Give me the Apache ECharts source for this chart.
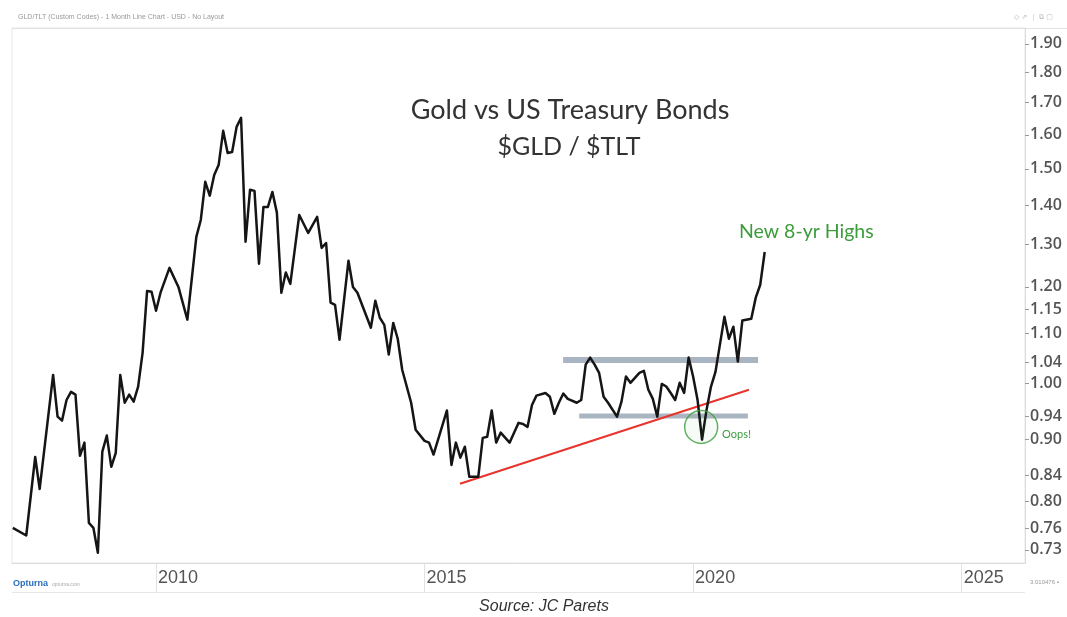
<!DOCTYPE html>
<html><head><meta charset="utf-8">
<script src="https://cdn.jsdelivr.net/npm/echarts@6/dist/echarts.min.js"></script>
<style>html,body{margin:0;padding:0;background:#fff;}#c{width:1067px;height:617px;}</style>
</head><body><div id="c"></div>
<script>
// Monthly GLD/TLT ratio (month, value)
const months = [
'2007-05','2007-08','2007-10','2007-11','2008-02','2008-03','2008-04','2008-05','2008-06','2008-07',
'2008-08','2008-09','2008-10','2008-11','2008-12','2009-01','2009-02','2009-03','2009-04','2009-05',
'2009-06','2009-07','2009-08','2009-09','2009-10','2009-11','2009-12','2010-01','2010-02','2010-04',
'2010-06','2010-08','2010-10','2010-11','2010-12','2011-01','2011-02','2011-03','2011-04','2011-05',
'2011-06','2011-07','2011-08','2011-09','2011-10','2011-11','2011-12','2012-01','2012-02','2012-03',
'2012-04','2012-05','2012-06','2012-07','2012-09','2012-11','2013-01','2013-02','2013-03','2013-04',
'2013-05','2013-06','2013-08','2013-09','2013-10','2014-01','2014-02','2014-03','2014-04','2014-05',
'2014-06','2014-07','2014-08','2014-10','2014-11','2015-01','2015-02','2015-03','2015-06','2015-07',
'2015-08','2015-09','2015-10','2015-11','2016-01','2016-02','2016-03','2016-04','2016-05','2016-06',
'2016-08','2016-09','2016-10','2016-11','2016-12','2017-01','2017-02','2017-04','2017-05','2017-06',
'2017-07','2017-08','2017-09','2017-11','2017-12','2018-01','2018-02','2018-03','2018-04','2018-05',
'2018-06','2018-08','2018-09','2018-10','2018-11','2019-01','2019-02','2019-03','2019-04','2019-05',
'2019-06','2019-07','2019-08','2019-09','2019-10','2019-11','2019-12','2020-01','2020-02','2020-03',
'2020-04','2020-05','2020-06','2020-08','2020-09','2020-10','2020-11','2020-12','2021-02','2021-03',
'2021-04','2021-05'];
const ratio = [
0.761,0.750,0.870,0.819,1.016,0.939,0.932,0.969,0.984,0.979,
0.872,0.894,0.768,0.761,0.726,0.879,0.906,0.854,0.877,1.016,
0.964,0.979,0.966,0.994,1.060,1.191,1.189,1.147,1.187,1.244,
1.200,1.128,1.319,1.362,1.464,1.426,1.483,1.512,1.612,1.546,
1.549,1.624,1.652,1.307,1.442,1.439,1.254,1.396,1.396,1.436,
1.381,1.187,1.233,1.207,1.375,1.329,1.370,1.292,1.304,1.165,
1.160,1.086,1.261,1.200,1.187,1.111,1.169,1.132,1.117,1.056,
1.121,1.088,1.026,0.964,0.916,0.897,0.894,0.874,0.950,0.857,
0.894,0.869,0.887,0.838,0.838,0.902,0.904,0.950,0.894,0.911,
0.894,0.911,0.928,0.926,0.921,0.960,0.977,0.982,0.975,0.944,
0.964,0.981,0.971,0.964,0.969,1.036,1.050,1.036,1.020,0.975,
0.964,0.939,0.966,1.013,1.001,1.020,1.024,0.988,0.971,0.939,
0.999,0.994,0.982,0.969,1.001,0.982,1.050,1.013,0.969,0.899,
0.951,0.994,1.022,1.134,1.088,1.113,1.042,1.126,1.130,1.176,
1.205,1.282];

const yTicks = [0.73,0.76,0.80,0.84,0.90,0.94,1.00,1.04,1.10,1.15,1.20,1.30,1.40,1.50,1.60,1.70,1.80,1.90];
const xTicks = [2010,2015,2020,2025];

// annotations (data coordinates)
const resistanceX = [2017.58, 2021.21], resistanceY = [1.045, 1.045];
const supportX = [2017.88, 2021.02], supportY = [0.94, 0.94];
const trendX = [2015.66, 2021.04], trendY = [0.827, 0.988];
const oopsPoint = [2020.15, 0.921];

const toYear = s => +s.slice(0,4) + (+s.slice(5,7) - 1) / 12;
const mainData = months.map((m, i) => [toYear(m), ratio[i]]);
const pairs = (xs, ys) => xs.map((x, i) => [x, ys[i]]);

const chart = echarts.init(document.getElementById('c'), null, {renderer: 'canvas'});
const green = '#3c9c3c';
chart.setOption({
  animation: false,
  backgroundColor: '#fff',
  grid: {left: 12, right: 42, top: 28, bottom: 54, show: true, borderColor: '#e6e6e6', borderWidth: 1},
  xAxis: {
    type: 'value', min: 2007.318, max: 2026.18,
    axisLine: {show: true, lineStyle: {color: '#dcdcdc', width: 1}},
    axisTick: {show: true, length: 29, customValues: xTicks, lineStyle: {color: '#e2e2e2'}},
    axisLabel: {customValues: xTicks, align: 'left', margin: 6, padding: [0,0,0,2],
      formatter: v => String(Math.round(v)),
      fontFamily: '"Liberation Sans Narrow", "Arial Narrow", sans-serif', fontSize: 18, color: '#555'},
    splitLine: {show: false}
  },
  yAxis: {
    type: 'log', logBase: 10, position: 'right', min: 0.712, max: 1.958,
    axisLine: {show: true, lineStyle: {color: '#dcdcdc', width: 1}},
    axisTick: {show: true, length: 4, customValues: yTicks, lineStyle: {color: '#999'}},
    axisLabel: {customValues: yTicks, margin: 5, formatter: v => (+v).toFixed(2),
      fontFamily: '"Open Sans", sans-serif', fontSize: 16, color: '#555', fontWeight: 600},
    splitLine: {show: false}
  },
  series: [
    {type: 'line', data: pairs(resistanceX, resistanceY), symbol: 'none', silent: true, z: 1,
     lineStyle: {color: '#a9b5c1', width: 6}},
    {type: 'line', data: pairs(supportX, supportY), symbol: 'none', silent: true, z: 1,
     lineStyle: {color: '#a9b5c1', width: 5}},
    {type: 'line', data: pairs(trendX, trendY), symbol: 'none', silent: true, z: 2,
     lineStyle: {color: '#e8342c', width: 2}},
    {type: 'line', data: mainData, symbol: 'none', z: 3,
     lineStyle: {color: '#151515', width: 2.5, join: 'round'}},
    {type: 'scatter', data: [oopsPoint], symbol: 'circle', symbolSize: 33, z: 4,
     itemStyle: {color: 'rgba(60,156,60,0.05)', borderColor: green, borderWidth: 1.5}}
  ],
  graphic: [
    {type: 'line', shape: {x1: 12, y1: 28.5, x2: 1067, y2: 28.5}, style: {stroke: '#e2e2e2', lineWidth: 1}},
    {type: 'line', shape: {x1: 12, y1: 592.5, x2: 1025, y2: 592.5}, style: {stroke: '#e6e6e6', lineWidth: 1}},
    {type: 'text', x: 18, y: 17, style: {text: 'GLD/TLT (Custom Codes) - 1 Month Line Chart - USD - No Layout',
      font: '7px "Liberation Sans", sans-serif', fill: '#999', verticalAlign: 'middle'}},
    {type: 'text', x: 570, y: 110, style: {text: 'Gold vs US Treasury Bonds', align: 'center', verticalAlign: 'middle',
      font: '27px Lato, sans-serif', fill: '#333'}},
    {type: 'text', x: 569, y: 147, style: {text: '$GLD / $TLT', align: 'center', verticalAlign: 'middle',
      font: '25px Lato, sans-serif', fill: '#333'}},
    {type: 'text', x: 739, y: 232, style: {text: 'New 8-yr Highs', align: 'left', verticalAlign: 'middle',
      font: '19.5px Lato, sans-serif', fill: green}},
    {type: 'text', x: 722, y: 434, style: {text: 'Oops!', align: 'left', verticalAlign: 'middle',
      font: '11px Lato, sans-serif', fill: green}},
    {type: 'text', x: 13, y: 584, style: {text: 'Opturna', verticalAlign: 'middle',
      font: 'bold 9px "Liberation Sans", sans-serif', fill: '#2a6ebb'}},
    {type: 'text', x: 52, y: 585, style: {text: 'opturna.com', verticalAlign: 'middle',
      font: '5px "Liberation Sans", sans-serif', fill: '#aaa'}},
    {type: 'text', x: 1030, y: 582, style: {text: '3.010476 ▪', verticalAlign: 'middle',
      font: '6px "Liberation Sans", sans-serif', fill: '#999'}},
    {type: 'text', x: 1014, y: 17, style: {text: '◇ ⇗ ｜ ⧉ ▢', verticalAlign: 'middle',
      font: '7px "DejaVu Sans", sans-serif', fill: '#bbb'}},
    {type: 'text', x: 544, y: 607, style: {text: 'Source: JC Parets', align: 'center', verticalAlign: 'middle',
      font: 'italic 16px "Liberation Sans", Arial, sans-serif', fill: '#333'}}
  ]
});
</script>
</body></html>
